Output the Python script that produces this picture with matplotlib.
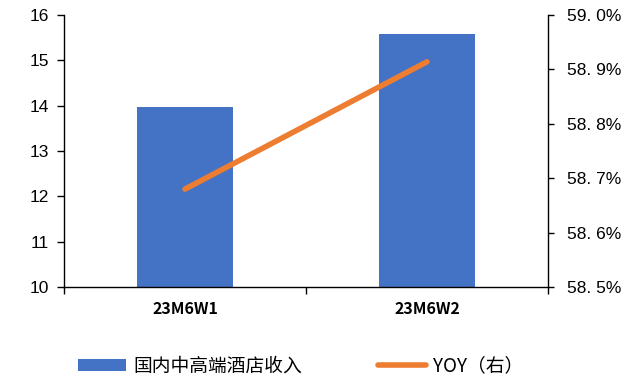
import matplotlib
matplotlib.use("Agg")
import matplotlib.pyplot as plt
from matplotlib.ticker import FuncFormatter, FixedLocator
from matplotlib.patches import Patch
from matplotlib.lines import Line2D

categories = ["23M6W1", "23M6W2"]
revenue = [13.97, 15.58]
yoy = [58.68, 58.914]
left_ticks = [10, 11, 12, 13, 14, 15, 16]
right_ticks = [58.5, 58.6, 58.7, 58.8, 58.9, 59.0]
bar_label = "国内中高端酒店收入"
line_label = "YOY（右）"

bar_color = "#4472C4"
line_color = "#ED7D31"
cjk = ["Noto Sans CJK SC", "DejaVu Sans"]

fig = plt.figure(figsize=(6.32, 3.76), dpi=100)
ax = fig.add_axes([64/632, 1-287/376, 484/632, 272/376])
x = list(range(len(categories)))
ax.bar(x, revenue, width=0.4, color=bar_color, zorder=2)
ax.set_xlim(-0.5, 1.5)
ax.set_ylim(10, 16)
ax.set_yticks(left_ticks)
ax.set_xticks(x)
ax.set_xticklabels(categories, fontfamily=cjk, fontsize=11.5, fontweight='bold')
ax.xaxis.set_minor_locator(FixedLocator([-0.5, 0.5, 1.5]))
ax.tick_params(axis='x', which='major', length=0, pad=10)
ax.tick_params(axis='x', which='minor', length=5, direction='out', width=1)
ax.tick_params(axis='y', length=5, direction='out', width=1, labelsize=12.5, pad=6)
for lab in ax.get_yticklabels():
    lab.set_fontfamily("Liberation Sans")
for s in ["top", "right"]:
    ax.spines[s].set_visible(False)
ax.spines["left"].set_linewidth(1)
ax.spines["bottom"].set_linewidth(1)

ax2 = ax.twinx()
ax2.plot(x, yoy, color=line_color, linewidth=4, solid_capstyle='round', zorder=3)
ax2.set_ylim(58.5, 59.0)
ax2.set_yticks(right_ticks)
ax2.yaxis.set_major_formatter(FuncFormatter(lambda v, p: f"{v:.1f}%".replace(".", ". ")))
ax2.tick_params(axis='y', length=4, direction='out', width=1, labelsize=12.5, pad=10)
for lab in ax2.get_yticklabels():
    lab.set_fontfamily("Liberation Sans")
for s in ["top", "left"]:
    ax2.spines[s].set_visible(False)
ax2.spines["bottom"].set_visible(False)
ax2.spines["right"].set_linewidth(1)

handles = [Patch(facecolor=bar_color, edgecolor='none'),
           Line2D([0], [0], color=line_color, linewidth=4, solid_capstyle='round')]
leg = fig.legend(handles, [bar_label, line_label], loc='center left',
                 bbox_to_anchor=(78/632, 1-366/376), ncol=2,
                 frameon=False, prop={'family': cjk, 'size': 13.5}, columnspacing=4.05,
                 handlelength=2.56, handleheight=0.55, handletextpad=0.37,
                 borderpad=0, borderaxespad=0)

fig.savefig("out.png", dpi=100)
